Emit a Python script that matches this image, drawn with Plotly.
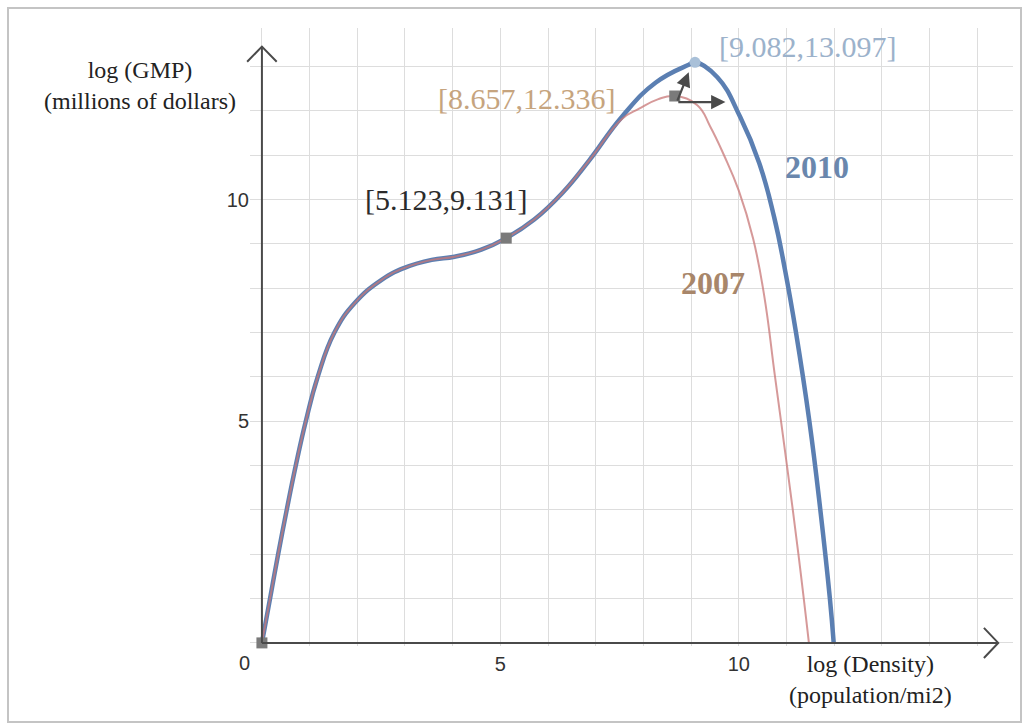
import plotly.graph_objects as go

# ---- data ----
density_2010 = [0, 0.17, 0.34, 0.52, 0.71, 0.92, 1.17, 1.52, 1.95, 2.51, 2.99, 3.56, 4.04, 4.6,
                5.123, 5.71, 6.3, 6.86, 7.55, 8.26, 8.95, 9.082, 9.55, 10.03, 10.43, 10.74,
                10.97, 11.20, 11.48, 11.71, 11.91, 11.99]
gmp_2010 = [0, 1, 2, 3, 4, 5, 6, 7, 7.67, 8.19, 8.46, 8.64, 8.71, 8.87,
            9.131, 9.55, 10.15, 10.88, 11.87, 12.64, 13.04, 13.097, 12.76, 11.86, 10.82, 9.61,
            8.41, 7.0, 5.0, 3.0, 1.0, 0]

density_2007 = [0, 0.17, 0.34, 0.52, 0.71, 0.92, 1.17, 1.52, 1.95, 2.51, 2.99, 3.56, 4.04, 4.6,
                5.123, 5.71, 6.3, 6.86, 7.55, 7.91, 8.3, 8.657, 9.13, 9.4, 9.69, 10.0, 10.30,
                10.53, 10.76, 11.01, 11.25, 11.47]
gmp_2007 = [0, 1, 2, 3, 4, 5, 6, 7, 7.67, 8.19, 8.46, 8.64, 8.71, 8.87,
            9.131, 9.55, 10.15, 10.88, 11.82, 12.05, 12.26, 12.336, 12.13, 11.65, 11.0, 10.2, 9.12,
            7.85, 6.0, 4.0, 2.0, 0]

key_x = [0, 5.123, 8.657]
key_y = [0, 9.131, 12.336]
peak_2010_x = [9.082]
peak_2010_y = [13.097]

x_ticks = list(range(0, 16))
x_ticktext = ["5" if v == 5 else ("10" if v == 10 else "") for v in x_ticks]
y_ticks = list(range(0, 14))
y_ticktext = ["5" if v == 5 else ("10" if v == 10 else "") for v in y_ticks]

XMIN, XMAX = -0.25, 15.75
YMIN, YMAX = -0.07, 13.87

def px(xd):
    return (xd - XMIN) / (XMAX - XMIN)

def py(yd):
    return (yd - YMIN) / (YMAX - YMIN)

BLUE = "#5b7fb2"
PINK = "#c97878"
SERIF = "Liberation Serif, Times New Roman, serif"
SANS = "Liberation Sans, Arial, sans-serif"
AXC = "#4a4a4a"

fig = go.Figure()

fig.add_trace(go.Scatter(x=density_2010, y=gmp_2010, mode="lines",
                         line=dict(color=BLUE, width=4.5, shape="spline", smoothing=1.3),
                         cliponaxis=False, hoverinfo="skip"))
fig.add_trace(go.Scatter(x=density_2007, y=gmp_2007, mode="lines",
                         line=dict(color=PINK, width=2, shape="spline", smoothing=1.3),
                         opacity=0.75, cliponaxis=False, hoverinfo="skip"))
fig.add_trace(go.Scatter(x=key_x, y=key_y, mode="markers",
                         marker=dict(color="#7a7a7a", size=11, symbol="square"),
                         cliponaxis=False, hoverinfo="skip"))
fig.add_trace(go.Scatter(x=peak_2010_x, y=peak_2010_y, mode="markers",
                         marker=dict(color="#a9c0d8", size=11, symbol="circle"),
                         cliponaxis=False, hoverinfo="skip"))

shapes = []
# y axis line with open chevron
shapes.append(dict(type="line", xref="paper", yref="paper",
                   x0=px(0), x1=px(0), y0=py(0), y1=py(13.45),
                   line=dict(color=AXC, width=2)))
shapes.append(dict(type="path", xref="paper", yref="paper",
                   path=f"M {px(-0.31)},{py(13.11)} L {px(0)},{py(13.45)} L {px(0.31)},{py(13.11)}",
                   line=dict(color=AXC, width=2)))
# x axis line with open chevron
shapes.append(dict(type="line", xref="paper", yref="paper",
                   x0=px(0), x1=px(15.44), y0=py(0), y1=py(0),
                   line=dict(color=AXC, width=2)))
shapes.append(dict(type="path", xref="paper", yref="paper",
                   path=f"M {px(15.14)},{py(0.34)} L {px(15.44)},{py(0)} L {px(15.14)},{py(-0.34)}",
                   line=dict(color=AXC, width=2)))
# outer frame
shapes.append(dict(type="rect", xref="paper", yref="paper",
                   x0=(8 - 250) / 763, x1=(1021 - 250) / 763,
                   y0=(646 - 722) / 618, y1=(646 - 8) / 618,
                   line=dict(color="#c4c4c4", width=2), layer="below"))

annotations = []
def label(text, x, y, color, size=30, bold=False, family=SERIF):
    # placed in paper space (converted from data units) so labels outside the range stay visible
    annotations.append(dict(x=px(x), y=py(y), xref="paper", yref="paper",
                            text=(f"<b>{text}</b>" if bold else text),
                            showarrow=False, font=dict(family=family, size=size, color=color),
                            xanchor="center", yanchor="middle"))

label(f"[{key_x[1]:.3f},{key_y[1]:.3f}]", 3.85, 10.01, "#2b2b2b")
label(f"[{key_x[2]:.3f},{key_y[2]:.3f}]", 5.54, 12.27, "#c6a47e")
label(f"[{peak_2010_x[0]:.3f},{peak_2010_y[0]:.3f}]", 11.44, 13.46, "#9cb2cb")
label("2010", 11.63, 10.73, "#6a87ad", size=32, bold=True)
label("2007", 9.46, 8.12, "#a8866a", size=32, bold=True)
label("0", -0.36, -0.45, "#333333", size=20, family=SANS)
label("log (GMP)<br>(millions of dollars)", -2.55, 12.58, "#222222", size=24)
label("log (Density)<br>(population/mi2)", 12.76, -0.83, "#222222", size=24)

# derivative arrows
annotations.append(dict(x=9.72, y=12.2, ax=8.70, ay=12.2, xref="x", yref="y", axref="x", ayref="y",
                        text="", showarrow=True, arrowhead=2, arrowsize=1.3, arrowwidth=2.2,
                        arrowcolor=AXC))
annotations.append(dict(x=8.95, y=12.87, ax=8.70, ay=12.2, xref="x", yref="y", axref="x", ayref="y",
                        text="", showarrow=True, arrowhead=2, arrowsize=1.3, arrowwidth=2.2,
                        arrowcolor=AXC))

fig.update_layout(
    width=1030, height=725,
    margin=dict(l=250, r=17, t=28, b=79),
    paper_bgcolor="white", plot_bgcolor="white",
    showlegend=False,
    shapes=shapes, annotations=annotations,
    xaxis=dict(range=[XMIN, XMAX], tickvals=x_ticks, ticktext=x_ticktext,
               showgrid=True, gridcolor="#dddddd", gridwidth=1, zeroline=False,
               showline=False, ticks="", ticklabelstandoff=4,
               tickfont=dict(family=SANS, size=20, color="#333333"), fixedrange=True),
    yaxis=dict(range=[YMIN, YMAX], tickvals=y_ticks, ticktext=y_ticktext,
               showgrid=True, gridcolor="#dddddd", gridwidth=1, zeroline=False,
               showline=False, ticks="",
               tickfont=dict(family=SANS, size=20, color="#333333"), fixedrange=True),
)

fig.write_html("out.html", config={"displayModeBar": False},
               post_script="document.body.style.margin='0px';")
